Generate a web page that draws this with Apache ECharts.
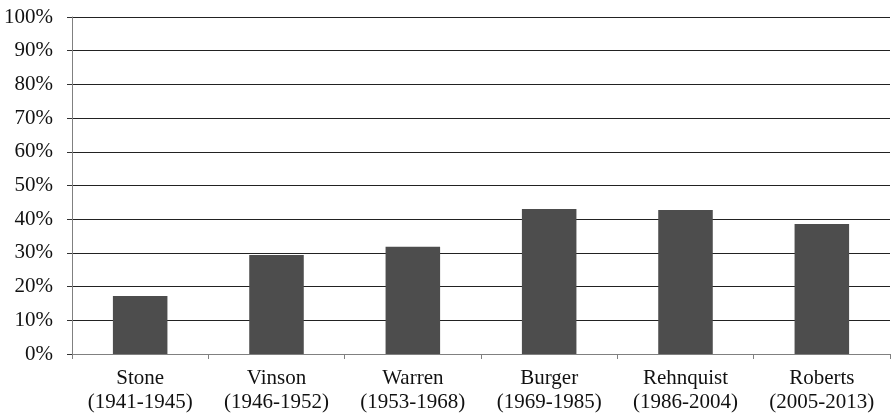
<!DOCTYPE html>
<html><head><meta charset="utf-8">
<script src="https://cdn.jsdelivr.net/npm/echarts@6/dist/echarts.min.js"></script>
<style>html,body{margin:0;padding:0;background:#fff}#c{width:891px;height:413px}</style>
</head><body><div id="c"></div>
<script>
const categories = ["Stone\n(1941-1945)", "Vinson\n(1946-1952)", "Warren\n(1953-1968)", "Burger\n(1969-1985)", "Rehnquist\n(1986-2004)", "Roberts\n(2005-2013)"];
const values = [17.2, 29.4, 31.8, 43.0, 42.7, 38.6];
const yTicks = [0, 10, 20, 30, 40, 50, 60, 70, 80, 90, 100];
const FONT = "Liberation Serif";
const chart = echarts.init(document.getElementById('c'), null, {renderer: 'canvas'});
chart.setOption({
  animation: false,
  grid: {left: 72, right: 1, top: 17, bottom: 59, outerBoundsMode: 'none', containLabel: false},
  xAxis: {
    type: 'category', data: categories,
    axisLine: {lineStyle: {color: '#808080', width: 1}},
    axisTick: {show: true, interval: 0, length: 5, lineStyle: {color: '#808080'}},
    axisLabel: {interval: 0, hideOverlap: false, color: '#111', fontFamily: FONT, fontSize: 21, lineHeight: 24, margin: 12}
  },
  yAxis: {
    type: 'value', min: yTicks[0], max: yTicks[yTicks.length - 1], interval: 10,
    axisLine: {show: true, lineStyle: {color: '#808080', width: 1}},
    axisTick: {show: true, length: 5, lineStyle: {color: '#333'}},
    splitLine: {lineStyle: {color: '#222', width: 1}},
    axisLabel: {color: '#111', fontFamily: FONT, fontSize: 21, margin: 19, formatter: v => v + '%'}
  },
  series: [{
    type: 'bar', data: values, barWidth: '40%',
    itemStyle: {color: '#4d4d4d'}
  }]
});
</script></body></html>
